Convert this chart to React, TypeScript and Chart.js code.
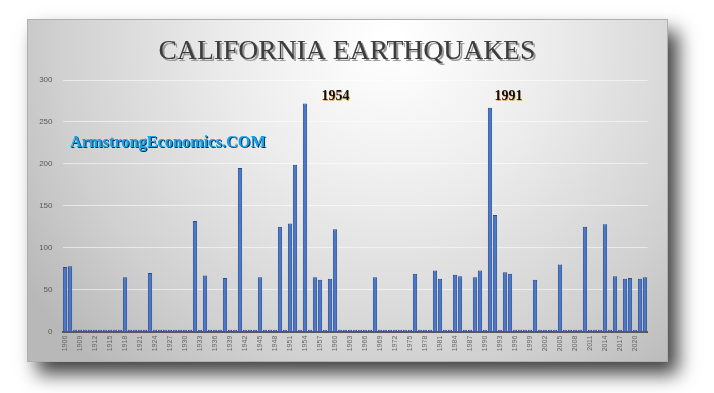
import React, { useEffect, useRef } from 'react';
import { Chart, registerables } from 'chart.js';

Chart.register(...registerables);

// ---- Data ----
const firstYear = 1906;
const lastYear = 2022;
const years: string[] = [];
for (let y = firstYear; y <= lastYear; y++) years.push(String(y));

// Earthquake counts per year (1906 .. 2022)
const quakes1900s = [77, 78, 0, 0];
const quakes1910s = [0, 0, 0, 0, 0, 0, 0, 0, 65, 0];
const quakes1920s = [0, 0, 0, 70, 0, 0, 0, 0, 0, 0];
const quakes1930s = [0, 0, 132, 0, 67, 0, 0, 0, 64, 0];
const quakes1940s = [0, 195, 0, 0, 0, 65, 0, 0, 0, 125];
const quakes1950s = [0, 129, 199, 0, 272, 0, 65, 62, 0, 63];
const quakes1960s = [122, 0, 0, 0, 0, 0, 0, 0, 65, 0];
const quakes1970s = [0, 0, 0, 0, 0, 0, 69, 0, 0, 0];
const quakes1980s = [73, 63, 0, 0, 68, 66, 0, 0, 65, 73];
const quakes1990s = [0, 267, 139, 0, 71, 69, 0, 0, 0, 0];
const quakes2000s = [62, 0, 0, 0, 0, 80, 0, 0, 0, 0];
const quakes2010s = [125, 0, 0, 0, 128, 0, 66, 0, 63, 64];
const quakes2020s = [0, 63, 65];

const quakes = [
  ...quakes1900s, ...quakes1910s, ...quakes1920s, ...quakes1930s, ...quakes1940s,
  ...quakes1950s, ...quakes1960s, ...quakes1970s, ...quakes1980s, ...quakes1990s,
  ...quakes2000s, ...quakes2010s, ...quakes2020s,
];

const yTicks = [0, 50, 100, 150, 200, 250, 300];
const titleText = 'CALIFORNIA EARTHQUAKES';
const watermark = 'ArmstrongEconomics.COM';
const notes = [
  { text: '1954', x: 321.5, y: 100 },
  { text: '1991', x: 494.5, y: 100 },
];

function fitFont(ctx: CanvasRenderingContext2D, text: string, weight: string, family: string, target: number, base: number) {
  ctx.font = `${weight} ${base}px ${family}`;
  const w = ctx.measureText(text).width;
  const size = base * target / w;
  ctx.font = `${weight} ${size}px ${family}`;
}

const panelPlugin = {
  id: 'panel',
  beforeDraw(chart: any) {
    const ctx: CanvasRenderingContext2D = chart.ctx;
    ctx.save();
    ctx.fillStyle = '#ffffff';
    ctx.fillRect(0, 0, chart.width, chart.height);
    const px = 27, py = 19, pw = 641, ph = 343;
    ctx.shadowColor = 'rgba(0,0,0,0.75)';
    ctx.shadowBlur = 18;
    ctx.shadowOffsetX = 10;
    ctx.shadowOffsetY = 12;
    ctx.fillStyle = '#c4c4c4';
    ctx.fillRect(px, py, pw, ph);
    ctx.shadowColor = 'transparent';
    ctx.shadowBlur = 0;
    ctx.shadowOffsetX = 0;
    ctx.shadowOffsetY = 0;
    const g = ctx.createRadialGradient(390, 40, 10, 390, 40, 440);
    g.addColorStop(0, '#ffffff');
    g.addColorStop(0.35, '#ececec');
    g.addColorStop(0.75, '#d0d0d0');
    g.addColorStop(1, '#b8b8b8');
    ctx.fillStyle = g;
    ctx.fillRect(px, py, pw, ph);
    ctx.strokeStyle = '#b0b0b0';
    ctx.lineWidth = 1;
    ctx.strokeRect(px + 0.5, py + 0.5, pw - 1, ph - 1);
    ctx.restore();
  },
  afterDraw(chart: any) {
    const ctx: CanvasRenderingContext2D = chart.ctx;
    ctx.save();
    // Title
    ctx.textBaseline = 'alphabetic';
    ctx.textAlign = 'left';
    fitFont(ctx, titleText, 'normal', '"Liberation Serif", serif', 377, 28);
    ctx.fillStyle = '#9a9a9a';
    ctx.fillText(titleText, 160.5, 60.5);
    ctx.fillStyle = '#3c3c3c';
    ctx.fillText(titleText, 158.5, 58.5);
    // Year notes
    ctx.font = 'bold 14px "Liberation Serif", serif';
    for (const n of notes) {
      ctx.fillStyle = 'rgba(210,130,20,0.6)';
      ctx.fillText(n.text, n.x + 0.8, n.y + 0.8);
      ctx.fillStyle = '#111111';
      ctx.fillText(n.text, n.x, n.y);
    }
    // Watermark
    fitFont(ctx, watermark, 'bold', '"Liberation Serif", serif', 196, 15);
    ctx.fillStyle = '#0b2a55';
    ctx.fillText(watermark, 71, 148);
    ctx.fillStyle = '#12a3ea';
    ctx.fillText(watermark, 70, 147);
    ctx.restore();
  },
};

export default function App() {
  const ref = useRef<HTMLCanvasElement | null>(null);
  useEffect(() => {
    if (!ref.current) return;
    const chart = new Chart(ref.current, {
      type: 'bar',
      data: {
        labels: years,
        datasets: [
          {
            data: quakes,
            backgroundColor: '#4a78cc',
            borderColor: '#2b4c8c',
            borderWidth: 1,
            barPercentage: 0.86,
            categoryPercentage: 1,
            minBarLength: 2,
          },
        ],
      },
      options: {
        responsive: false,
        animation: false,
        devicePixelRatio: 1,
        layout: { padding: { left: 0, right: 66.5, top: 80, bottom: 0 } },
        plugins: { legend: { display: false }, tooltip: { enabled: false }, title: { display: false } },
        scales: {
          x: {
            type: 'category',
            grid: { display: false, drawTicks: false },
            border: { display: true, color: '#595959', width: 2 },
            ticks: {
              autoSkip: false,
              maxRotation: 90,
              minRotation: 90,
              padding: 4,
              color: '#666666',
              font: { family: '"Liberation Sans", sans-serif', size: 7 },
              callback: (_v: any, i: number) => ((Number(years[i]) - firstYear) % 3 === 0 ? years[i] : ''),
            },
            afterFit: (s: any) => { s.height = 393 - 331.7; },
          },
          y: {
            min: 0,
            max: 300,
            afterBuildTicks: (s: any) => { s.ticks = yTicks.map((v) => ({ value: v })); },
            grid: { color: 'rgba(255,255,255,0.55)', lineWidth: 1, drawTicks: false },
            border: { display: false },
            ticks: {
              padding: 10,
              color: '#595959',
              font: { family: '"Liberation Sans", sans-serif', size: 8 },
            },
            afterFit: (s: any) => { s.width = 62.5; },
          },
        },
      },
      plugins: [panelPlugin],
    });
    return () => chart.destroy();
  }, []);
  return (
    <div style={{ position: 'absolute', left: 0, top: 0, width: 714, height: 393 }}>
      <canvas ref={ref} width={714} height={393} style={{ width: 714, height: 393, display: 'block' }} />
    </div>
  );
}
